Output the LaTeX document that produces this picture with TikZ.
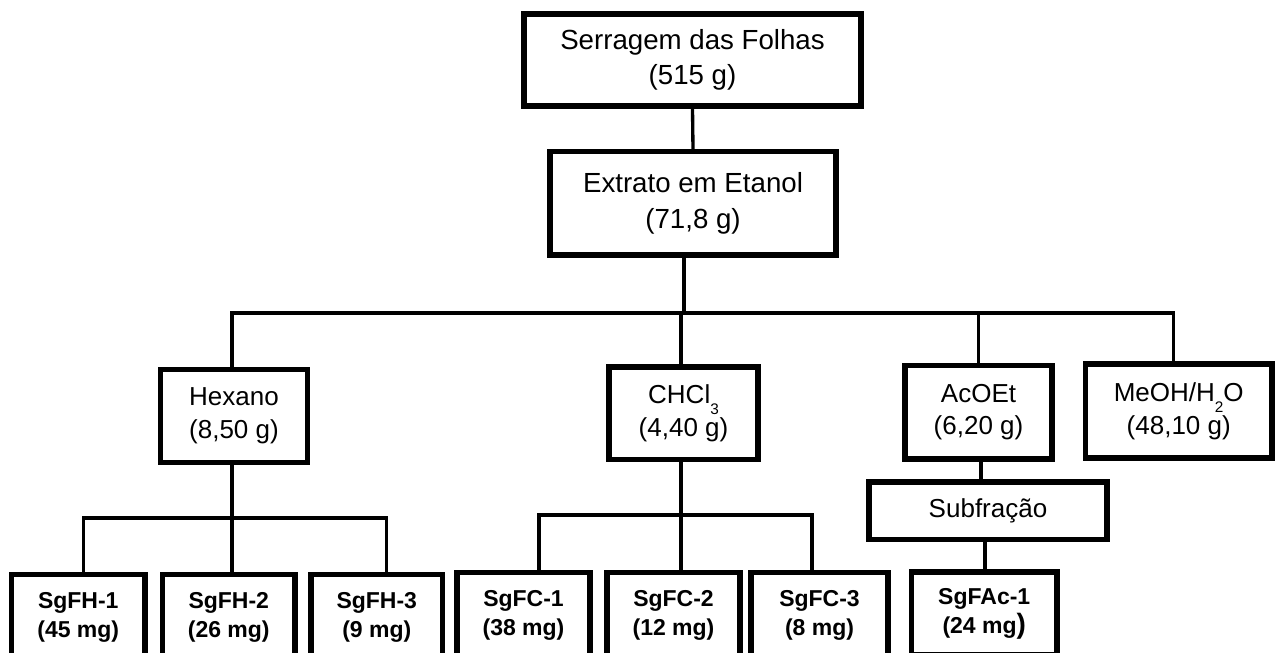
\documentclass[tikz,border=0pt]{standalone}
\usepackage{fontspec}
\setmainfont{Liberation Sans}
\usetikzlibrary{calc}
% lowered subscript as used in the formula labels
\newcommand\lowsub[1]{\raisebox{-0.42em}{\fontsize{11.5}{11.5}\selectfont #1}}

\begin{document}
\begin{tikzpicture}[x=0.75pt,y=-0.75pt,
  box/.style={draw, line width=4pt, rectangle, inner sep=0pt, align=center},
  wh/.style 2 args={minimum width=#1*0.75pt, minimum height=#2*0.75pt},
  big/.style={font=\fontsize{20.75}{26.5}\selectfont},
  mid/.style={font=\fontsize{19.5}{24.5}\selectfont},
  frac/.style={font=\bfseries\fontsize{17.25}{21.75}\selectfont},
  link/.style={line width=2.5pt}]

\useasboundingbox (0,0) rectangle (1275,653);
\clip (0,0) rectangle (1275,653);

% starting material and crude extract
\node[box,big,wh={337}{92}]    (top) at (692.5,60)    {Serragem das Folhas\\(515 g)};
\node[box,big,wh={286}{103.5}] (ext) at (693,203.25)  {Extrato em Etanol\\(71,8 g)};

% partition phases
\node[box,mid,wh={147}{93}]    (hex) at (234,416)     {Hexano\\(8,50 g)};
\node[box,mid,wh={149}{92.5}]  (chl) at (683.5,413.25){CHCl\lowsub{3}\\(4,40 g)};
\node[box,mid,wh={147}{93.5}]  (aco) at (978.5,412.25){AcOEt\\(6,20 g)};
\node[box,mid,wh={186.5}{94}]  (meo) at (1178.75,411) {MeOH/H\lowsub{2}O\\(48,10 g)};
\node[box,mid,wh={238}{57.5}]  (sub) at (988,510.75)  {Subfração};

% isolated fractions
\node[box,frac,wh={133.5}{85}] (h1) at (78.25,617)  {SgFH-1\\(45 mg)};
\node[box,frac,wh={132.5}{85}] (h2) at (228.75,617) {SgFH-2\\(26 mg)};
\node[box,frac,wh={131.5}{85}] (h3) at (376.75,617) {SgFH-3\\(9 mg)};
\node[box,frac,wh={133}{85}]   (c1) at (523.5,615)  {SgFC-1\\(38 mg)};
\node[box,frac,wh={133}{85}]   (c2) at (673.5,615)  {SgFC-2\\(12 mg)};
\node[box,frac,wh={137}{85}]   (c3) at (819.5,615)  {SgFC-3\\(8 mg)};
\node[box,frac,wh={145.5}{83}] (fa) at (984.25,613.5)
  {SgFAc-1\\(24 mg{\fontsize{21}{21}\selectfont )}};

% junction points of the connector trees
\coordinate (jT) at (684,313);
\coordinate (jH) at (232,518);
\coordinate (jC) at (681,515);
\path ($(aco.south)+(2.5,0)$) coordinate (ja);
\path ($(sub.south)+(-3,0)$)  coordinate (js);
\path ($(meo.north)+(-5,0)$)  coordinate (jm);
\path ($(h1.north)+(5,0)$)    coordinate (jh1);
\path ($(h3.north)+(10,0)$)   coordinate (jh3);
\path ($(c1.north)+(15.5,0)$) coordinate (jc1);
\path ($(c3.north)+(-7.5,0)$) coordinate (jc3);

% connectors
\draw[link] (top.south) -- (ext.north);
\draw[link] (ext.south -| jT) -- (jT);
\draw[link] (jH |- hex.north) |- (jT) -| (jm);
\draw[link] (jC |- jT) -- (jC |- chl.north);
\draw[link] (aco.north |- jT) -- (aco.north);

\draw[link] (jH |- hex.south) -- (jH) -- (jH |- h2.north);
\draw[link] (jh1) |- (jH) -| (jh3);

\draw[link] (jC |- chl.south) -- (jC) -- (jC |- c2.north);
\draw[link] (jc1) |- (jC) -| (jc3);

\draw[link] (ja) -- (ja |- sub.north);
\draw[link] (js) -- (js |- fa.north);
\end{tikzpicture}
\end{document}
